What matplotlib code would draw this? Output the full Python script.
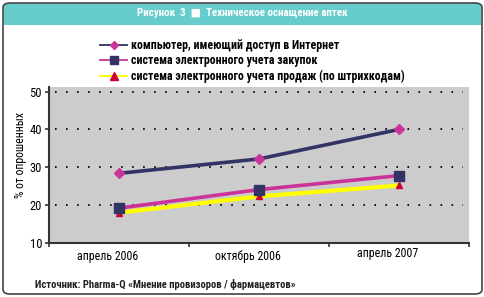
import matplotlib
matplotlib.use("Agg")
import matplotlib.pyplot as plt
import matplotlib.transforms as mtrans
from matplotlib import font_manager
from matplotlib.patches import FancyBboxPatch, Rectangle
from matplotlib.lines import Line2D

categories = ["апрель 2006", "октябрь 2006", "апрель 2007"]
series_names = ["компьютер, имеющий доступ в Интернет",
                "система электронного учета закупок",
                "система электронного учета продаж (по штрихкодам)"]
computer = [28.4, 32.2, 40.0]
purchases = [19.2, 24.1, 27.8]
sales = [18.0, 22.3, 25.2]
yticks = [10, 20, 30, 40, 50]

names = {f.name for f in font_manager.fontManager.ttflist}
narrow = None
for cand in ["Liberation Sans Narrow", "Roboto Condensed", "Open Sans Condensed",
             "DejaVu Sans Condensed"]:
    if cand in names:
        narrow = cand
        break
if narrow is None:
    narrow = "Liberation Sans"
FAM = [narrow, "DejaVu Sans"]

W, H = 485, 297
fig = plt.figure(figsize=(W / 100, H / 100), dpi=100)
fig.patch.set_facecolor("white")

def fx(px):
    return px / W

def fy(py):
    return 1 - py / H

frame = FancyBboxPatch((fx(3), fy(294)), fx(479), 291 / H,
                       boxstyle="round,pad=0,rounding_size=0.015",
                       transform=fig.transFigure, facecolor="none",
                       edgecolor="#444444", linewidth=1.2, zorder=5)
fig.patches.append(frame)
banner = FancyBboxPatch((fx(3.6), fy(25)), fx(477.8), 21.6 / H,
                        boxstyle="round,pad=0,rounding_size=0.012",
                        transform=fig.transFigure, facecolor="#66CCCC",
                        edgecolor="none", zorder=-1)
fig.patches.append(banner)
fig.patches.append(Rectangle((fx(3.6), fy(25)), fx(477.8), 8 / H,
                             transform=fig.transFigure, facecolor="#66CCCC",
                             edgecolor="none", zorder=-1))
fig.text(0.5, fy(13.5), "Рисунок  3  ■  Техническое оснащение аптек",
         ha="center", va="center", color="white", fontsize=7.9,
         fontweight="bold", family=FAM)

ax = fig.add_axes([fx(49), fy(243), fx(420), (243 - 87) / H])
ax.set_facecolor("#CCCCCC")
x = list(range(len(categories)))
ax.set_xlim(-0.5, len(categories) - 0.5)
ax.set_ylim(10, 51.2)

ax.plot(x, computer, color="#333366", lw=2.6, marker="D", ms=5,
        mfc="#CC3399", mec="#CC3399", zorder=4, solid_capstyle="butt")
ax.plot(x, purchases, color="#CC3399", lw=2.6, marker="s", ms=7,
        mfc="#333366", mec="#333366", zorder=4, solid_capstyle="butt")
ax.plot(x, sales, color="#FFFF00", lw=3.0, marker="^", ms=5,
        mfc="#CC0033", mec="#CC0033", zorder=3, solid_capstyle="butt")

ax.set_yticks(yticks)
ax.set_yticklabels([str(v) for v in yticks], fontsize=9, family=FAM)
for v in yticks[1:]:
    ax.axhline(v, xmin=0.015, xmax=0.985, color="black", lw=1.3,
               linestyle=(0, (0.9, 5.2)), zorder=1)

ax.set_xticks([-0.5, 0.5, 1.5, 2.5])
ax.set_xticklabels([])
ax.set_xticks(x, minor=True)
ax.set_xticklabels(categories, minor=True, fontsize=8.6, family=FAM)
ax.tick_params(axis="x", which="minor", length=0, pad=5)
ax.tick_params(axis="x", which="major", length=3, width=1.2, color="#333333")
ax.tick_params(axis="y", length=3, width=1.2, color="#333333", pad=2)
for i, lab in enumerate(ax.xaxis.get_minorticklabels()):
    dy = 3 / 100 if i == 2 else 0
    lab.set_transform(lab.get_transform() +
                      mtrans.ScaledTranslation(-11 / 100, dy, fig.dpi_scale_trans))

for s in ["top", "right"]:
    ax.spines[s].set_visible(False)
for s in ["left", "bottom"]:
    ax.spines[s].set_color("#333333")
    ax.spines[s].set_linewidth(1.5)

ax.set_ylabel("% от опрошенных", fontsize=8.5, family=FAM)
ax.yaxis.set_label_coords(-0.052, 0.564)

h1 = Line2D([], [], color="#333366", lw=1.3, marker="D", ms=4,
            mfc="#CC3399", mec="#CC3399")
h2 = Line2D([], [], color="#CC3399", lw=1.3, marker="s", ms=6,
            mfc="#333366", mec="#333366")
h3 = Line2D([], [], color="#FFFF00", lw=1.3, marker="^", ms=6,
            mfc="#CC0033", mec="#CC0033")
fig.legend([h1, h2, h3], series_names, loc="upper left",
           bbox_to_anchor=(fx(100), fy(39)), frameon=False,
           prop={"family": FAM, "weight": "bold", "size": 8.6},
           handlelength=2.3, handletextpad=0.3, labelspacing=0.2,
           borderaxespad=0, borderpad=0)

fig.text(fx(35), fy(284), "Источник: Pharma-Q «Мнение провизоров / фармацевтов»",
         ha="left", va="center", fontsize=7.7, fontweight="bold", color="#222222",
         family=FAM)

fig.savefig("out.png", dpi=100)
